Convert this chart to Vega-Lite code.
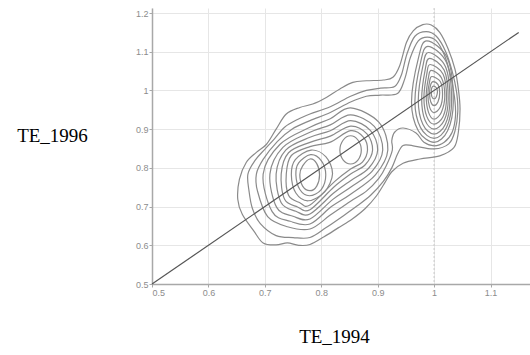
{
 "$schema": "https://vega.github.io/schema/vega-lite/v6.json",
 "width": 378, "height": 276,
 "autosize": {"type": "none"},
 "padding": {"left": 152, "top": 8, "right": 0, "bottom": 71},
 "background": "white",
 "config": {"view": {"stroke": null}},
 "datasets": {
  "contours": [
{"c":1,"i":0,"x":0.652,"y":0.719},{"c":1,"i":1,"x":0.655,"y":0.771},{"c":1,"i":2,"x":0.667,"y":0.814},{"c":1,"i":3,"x":0.685,"y":0.840},{"c":1,"i":4,"x":0.703,"y":0.861},{"c":1,"i":5,"x":0.720,"y":0.900},{"c":1,"i":6,"x":0.738,"y":0.939},{"c":1,"i":7,"x":0.762,"y":0.956},{"c":1,"i":8,"x":0.785,"y":0.965},{"c":1,"i":9,"x":0.809,"y":0.982},{"c":1,"i":10,"x":0.833,"y":1.004},{"c":1,"i":11,"x":0.856,"y":1.021},{"c":1,"i":12,"x":0.880,"y":1.025},{"c":1,"i":13,"x":0.910,"y":1.027},{"c":1,"i":14,"x":0.927,"y":1.034},{"c":1,"i":15,"x":0.939,"y":1.064},{"c":1,"i":16,"x":0.951,"y":1.124},{"c":1,"i":17,"x":0.963,"y":1.154},{"c":1,"i":18,"x":0.980,"y":1.170},{"c":1,"i":19,"x":0.995,"y":1.169},{"c":1,"i":20,"x":1.010,"y":1.150},{"c":1,"i":21,"x":1.025,"y":1.107},{"c":1,"i":22,"x":1.037,"y":1.055},{"c":1,"i":23,"x":1.043,"y":1.004},{"c":1,"i":24,"x":1.046,"y":0.952},{"c":1,"i":25,"x":1.043,"y":0.892},{"c":1,"i":26,"x":1.035,"y":0.852},{"c":1,"i":27,"x":1.010,"y":0.831},{"c":1,"i":28,"x":0.975,"y":0.823},{"c":1,"i":29,"x":0.945,"y":0.812},{"c":1,"i":30,"x":0.925,"y":0.790},{"c":1,"i":31,"x":0.912,"y":0.760},{"c":1,"i":32,"x":0.898,"y":0.728},{"c":1,"i":33,"x":0.878,"y":0.695},{"c":1,"i":34,"x":0.855,"y":0.668},{"c":1,"i":35,"x":0.830,"y":0.645},{"c":1,"i":36,"x":0.805,"y":0.622},{"c":1,"i":37,"x":0.780,"y":0.602},{"c":1,"i":38,"x":0.760,"y":0.600},{"c":1,"i":39,"x":0.740,"y":0.606},{"c":1,"i":40,"x":0.720,"y":0.601},{"c":1,"i":41,"x":0.697,"y":0.606},{"c":1,"i":42,"x":0.680,"y":0.638},{"c":1,"i":43,"x":0.660,"y":0.680},
{"c":2,"i":0,"x":0.672,"y":0.740},{"c":2,"i":1,"x":0.670,"y":0.784},{"c":2,"i":2,"x":0.683,"y":0.820},{"c":2,"i":3,"x":0.700,"y":0.848},{"c":2,"i":4,"x":0.717,"y":0.875},{"c":2,"i":5,"x":0.735,"y":0.905},{"c":2,"i":6,"x":0.758,"y":0.925},{"c":2,"i":7,"x":0.780,"y":0.939},{"c":2,"i":8,"x":0.816,"y":0.958},{"c":2,"i":9,"x":0.852,"y":0.985},{"c":2,"i":10,"x":0.880,"y":1.000},{"c":2,"i":11,"x":0.905,"y":1.006},{"c":2,"i":12,"x":0.930,"y":1.010},{"c":2,"i":13,"x":0.942,"y":1.040},{"c":2,"i":14,"x":0.952,"y":1.095},{"c":2,"i":15,"x":0.966,"y":1.140},{"c":2,"i":16,"x":0.986,"y":1.152},{"c":2,"i":17,"x":1.004,"y":1.140},{"c":2,"i":18,"x":1.020,"y":1.102},{"c":2,"i":19,"x":1.032,"y":1.050},{"c":2,"i":20,"x":1.040,"y":0.995},{"c":2,"i":21,"x":1.042,"y":0.945},{"c":2,"i":22,"x":1.037,"y":0.895},{"c":2,"i":23,"x":1.026,"y":0.862},{"c":2,"i":24,"x":1.000,"y":0.849},{"c":2,"i":25,"x":0.963,"y":0.857},{"c":2,"i":26,"x":0.945,"y":0.858},{"c":2,"i":27,"x":0.935,"y":0.835},{"c":2,"i":28,"x":0.925,"y":0.800},{"c":2,"i":29,"x":0.910,"y":0.765},{"c":2,"i":30,"x":0.888,"y":0.730},{"c":2,"i":31,"x":0.862,"y":0.700},{"c":2,"i":32,"x":0.835,"y":0.672},{"c":2,"i":33,"x":0.808,"y":0.645},{"c":2,"i":34,"x":0.780,"y":0.620},{"c":2,"i":35,"x":0.750,"y":0.620},{"c":2,"i":36,"x":0.720,"y":0.625},{"c":2,"i":37,"x":0.692,"y":0.656},{"c":2,"i":38,"x":0.678,"y":0.695},
{"c":3,"i":0,"x":0.687,"y":0.740},{"c":3,"i":1,"x":0.685,"y":0.784},{"c":3,"i":2,"x":0.697,"y":0.822},{"c":3,"i":3,"x":0.722,"y":0.868},{"c":3,"i":4,"x":0.748,"y":0.900},{"c":3,"i":5,"x":0.780,"y":0.922},{"c":3,"i":6,"x":0.816,"y":0.943},{"c":3,"i":7,"x":0.852,"y":0.970},{"c":3,"i":8,"x":0.880,"y":0.985},{"c":3,"i":9,"x":0.905,"y":0.988},{"c":3,"i":10,"x":0.935,"y":0.992},{"c":3,"i":11,"x":0.948,"y":1.030},{"c":3,"i":12,"x":0.958,"y":1.085},{"c":3,"i":13,"x":0.972,"y":1.128},{"c":3,"i":14,"x":0.988,"y":1.138},{"c":3,"i":15,"x":1.004,"y":1.128},{"c":3,"i":16,"x":1.018,"y":1.092},{"c":3,"i":17,"x":1.029,"y":1.040},{"c":3,"i":18,"x":1.036,"y":0.985},{"c":3,"i":19,"x":1.038,"y":0.935},{"c":3,"i":20,"x":1.032,"y":0.892},{"c":3,"i":21,"x":1.018,"y":0.866},{"c":3,"i":22,"x":1.000,"y":0.857},{"c":3,"i":23,"x":0.982,"y":0.866},{"c":3,"i":24,"x":0.968,"y":0.890},{"c":3,"i":25,"x":0.945,"y":0.903},{"c":3,"i":26,"x":0.930,"y":0.892},{"c":3,"i":27,"x":0.925,"y":0.870},{"c":3,"i":28,"x":0.926,"y":0.846},{"c":3,"i":29,"x":0.915,"y":0.805},{"c":3,"i":30,"x":0.902,"y":0.773},{"c":3,"i":31,"x":0.880,"y":0.740},{"c":3,"i":32,"x":0.852,"y":0.714},{"c":3,"i":33,"x":0.816,"y":0.678},{"c":3,"i":34,"x":0.780,"y":0.642},{"c":3,"i":35,"x":0.740,"y":0.648},{"c":3,"i":36,"x":0.705,"y":0.674},
{"c":4,"i":0,"x":0.697,"y":0.784},{"c":4,"i":1,"x":0.713,"y":0.687},{"c":4,"i":2,"x":0.745,"y":0.662},{"c":4,"i":3,"x":0.780,"y":0.655},{"c":4,"i":4,"x":0.818,"y":0.700},{"c":4,"i":5,"x":0.852,"y":0.732},{"c":4,"i":6,"x":0.896,"y":0.782},{"c":4,"i":7,"x":0.918,"y":0.846},{"c":4,"i":8,"x":0.902,"y":0.918},{"c":4,"i":9,"x":0.852,"y":0.955},{"c":4,"i":10,"x":0.816,"y":0.927},{"c":4,"i":11,"x":0.780,"y":0.905},{"c":4,"i":12,"x":0.727,"y":0.861},
{"c":5,"i":0,"x":0.709,"y":0.784},{"c":5,"i":1,"x":0.721,"y":0.698},{"c":5,"i":2,"x":0.750,"y":0.675},{"c":5,"i":3,"x":0.780,"y":0.668},{"c":5,"i":4,"x":0.820,"y":0.718},{"c":5,"i":5,"x":0.852,"y":0.750},{"c":5,"i":6,"x":0.890,"y":0.791},{"c":5,"i":7,"x":0.909,"y":0.846},{"c":5,"i":8,"x":0.894,"y":0.907},{"c":5,"i":9,"x":0.852,"y":0.937},{"c":5,"i":10,"x":0.816,"y":0.911},{"c":5,"i":11,"x":0.780,"y":0.892},{"c":5,"i":12,"x":0.732,"y":0.853},
{"c":6,"i":0,"x":0.720,"y":0.784},{"c":6,"i":1,"x":0.729,"y":0.710},{"c":6,"i":2,"x":0.755,"y":0.688},{"c":6,"i":3,"x":0.780,"y":0.681},{"c":6,"i":4,"x":0.822,"y":0.735},{"c":6,"i":5,"x":0.852,"y":0.767},{"c":6,"i":6,"x":0.884,"y":0.799},{"c":6,"i":7,"x":0.900,"y":0.846},{"c":6,"i":8,"x":0.887,"y":0.897},{"c":6,"i":9,"x":0.852,"y":0.922},{"c":6,"i":10,"x":0.816,"y":0.896},{"c":6,"i":11,"x":0.780,"y":0.879},{"c":6,"i":12,"x":0.737,"y":0.846},
{"c":7,"i":0,"x":0.729,"y":0.784},{"c":7,"i":1,"x":0.735,"y":0.719},{"c":7,"i":2,"x":0.758,"y":0.699},{"c":7,"i":3,"x":0.780,"y":0.692},{"c":7,"i":4,"x":0.822,"y":0.750},{"c":7,"i":5,"x":0.852,"y":0.784},{"c":7,"i":6,"x":0.878,"y":0.808},{"c":7,"i":7,"x":0.891,"y":0.846},{"c":7,"i":8,"x":0.881,"y":0.888},{"c":7,"i":9,"x":0.852,"y":0.908},{"c":7,"i":10,"x":0.816,"y":0.882},{"c":7,"i":11,"x":0.780,"y":0.866},{"c":7,"i":12,"x":0.742,"y":0.839},
{"c":8,"i":0,"x":0.738,"y":0.784},{"c":8,"i":1,"x":0.742,"y":0.729},{"c":8,"i":2,"x":0.762,"y":0.710},{"c":8,"i":3,"x":0.780,"y":0.704},{"c":8,"i":4,"x":0.824,"y":0.765},{"c":8,"i":5,"x":0.852,"y":0.797},{"c":8,"i":6,"x":0.873,"y":0.815},{"c":8,"i":7,"x":0.882,"y":0.846},{"c":8,"i":8,"x":0.875,"y":0.879},{"c":8,"i":9,"x":0.852,"y":0.896},{"c":8,"i":10,"x":0.815,"y":0.866},{"c":8,"i":11,"x":0.780,"y":0.855},{"c":8,"i":12,"x":0.747,"y":0.832},
{"c":9,"i":0,"x":0.820,"y":0.785},{"c":9,"i":1,"x":0.808,"y":0.829},{"c":9,"i":2,"x":0.782,"y":0.846},{"c":9,"i":3,"x":0.754,"y":0.821},{"c":9,"i":4,"x":0.747,"y":0.782},{"c":9,"i":5,"x":0.755,"y":0.735},{"c":9,"i":6,"x":0.777,"y":0.715},{"c":9,"i":7,"x":0.806,"y":0.738},
{"c":10,"i":0,"x":0.808,"y":0.782},{"c":10,"i":1,"x":0.800,"y":0.819},{"c":10,"i":2,"x":0.781,"y":0.834},{"c":10,"i":3,"x":0.760,"y":0.813},{"c":10,"i":4,"x":0.755,"y":0.782},{"c":10,"i":5,"x":0.762,"y":0.744},{"c":10,"i":6,"x":0.779,"y":0.728},{"c":10,"i":7,"x":0.800,"y":0.744},
{"c":11,"i":0,"x":0.797,"y":0.782},{"c":11,"i":1,"x":0.792,"y":0.811},{"c":11,"i":2,"x":0.780,"y":0.823},{"c":11,"i":3,"x":0.767,"y":0.805},{"c":11,"i":4,"x":0.762,"y":0.782},{"c":11,"i":5,"x":0.767,"y":0.753},{"c":11,"i":6,"x":0.780,"y":0.741},{"c":11,"i":7,"x":0.792,"y":0.753},
{"c":12,"i":0,"x":0.871,"y":0.846},{"c":12,"i":1,"x":0.865,"y":0.872},{"c":12,"i":2,"x":0.852,"y":0.883},{"c":12,"i":3,"x":0.839,"y":0.872},{"c":12,"i":4,"x":0.833,"y":0.846},{"c":12,"i":5,"x":0.839,"y":0.820},{"c":12,"i":6,"x":0.852,"y":0.810},{"c":12,"i":7,"x":0.865,"y":0.820},
{"c":20,"i":0,"x":1.034,"y":0.970},{"c":20,"i":1,"x":1.024,"y":1.082},{"c":20,"i":2,"x":0.987,"y":1.128},{"c":20,"i":3,"x":0.972,"y":1.082},{"c":20,"i":4,"x":0.960,"y":0.970},{"c":20,"i":5,"x":0.972,"y":0.896},{"c":20,"i":6,"x":1.000,"y":0.866},{"c":20,"i":7,"x":1.024,"y":0.896},
{"c":21,"i":0,"x":1.031,"y":0.972},{"c":21,"i":1,"x":1.022,"y":1.072},{"c":21,"i":2,"x":0.989,"y":1.114},{"c":21,"i":3,"x":0.976,"y":1.072},{"c":21,"i":4,"x":0.966,"y":0.972},{"c":21,"i":5,"x":0.976,"y":0.904},{"c":21,"i":6,"x":1.000,"y":0.876},{"c":21,"i":7,"x":1.022,"y":0.904},
{"c":22,"i":0,"x":1.028,"y":0.975},{"c":22,"i":1,"x":1.020,"y":1.062},{"c":22,"i":2,"x":0.990,"y":1.098},{"c":22,"i":3,"x":0.980,"y":1.062},{"c":22,"i":4,"x":0.972,"y":0.975},{"c":22,"i":5,"x":0.980,"y":0.913},{"c":22,"i":6,"x":1.000,"y":0.887},{"c":22,"i":7,"x":1.020,"y":0.913},
{"c":23,"i":0,"x":1.025,"y":0.978},{"c":23,"i":1,"x":1.018,"y":1.052},{"c":23,"i":2,"x":0.992,"y":1.083},{"c":23,"i":3,"x":0.984,"y":1.052},{"c":23,"i":4,"x":0.978,"y":0.978},{"c":23,"i":5,"x":0.984,"y":0.923},{"c":23,"i":6,"x":1.000,"y":0.900},{"c":23,"i":7,"x":1.018,"y":0.923},
{"c":24,"i":0,"x":1.022,"y":0.982},{"c":24,"i":1,"x":1.016,"y":1.042},{"c":24,"i":2,"x":0.993,"y":1.067},{"c":24,"i":3,"x":0.987,"y":1.042},{"c":24,"i":4,"x":0.982,"y":0.982},{"c":24,"i":5,"x":0.987,"y":0.933},{"c":24,"i":6,"x":1.000,"y":0.913},{"c":24,"i":7,"x":1.016,"y":0.933},
{"c":25,"i":0,"x":1.019,"y":0.986},{"c":25,"i":1,"x":1.013,"y":1.033},{"c":25,"i":2,"x":0.995,"y":1.052},{"c":25,"i":3,"x":0.990,"y":1.033},{"c":25,"i":4,"x":0.986,"y":0.986},{"c":25,"i":5,"x":0.990,"y":0.944},{"c":25,"i":6,"x":1.000,"y":0.926},{"c":25,"i":7,"x":1.013,"y":0.944},
{"c":26,"i":0,"x":1.015,"y":0.990},{"c":26,"i":1,"x":1.011,"y":1.023},{"c":26,"i":2,"x":0.996,"y":1.036},{"c":26,"i":3,"x":0.992,"y":1.023},{"c":26,"i":4,"x":0.989,"y":0.990},{"c":26,"i":5,"x":0.992,"y":0.957},{"c":26,"i":6,"x":1.000,"y":0.943},{"c":26,"i":7,"x":1.011,"y":0.957},
{"c":27,"i":0,"x":1.010,"y":0.994},{"c":27,"i":1,"x":1.007,"y":1.015},{"c":27,"i":2,"x":0.998,"y":1.023},{"c":27,"i":3,"x":0.994,"y":1.015},{"c":27,"i":4,"x":0.992,"y":0.994},{"c":27,"i":5,"x":0.994,"y":0.971},{"c":27,"i":6,"x":1.000,"y":0.961},{"c":27,"i":7,"x":1.007,"y":0.971},
{"c":28,"i":0,"x":1.006,"y":0.997},{"c":28,"i":1,"x":1.004,"y":1.007},{"c":28,"i":2,"x":0.999,"y":1.011},{"c":28,"i":3,"x":0.996,"y":1.007},{"c":28,"i":4,"x":0.995,"y":0.997},{"c":28,"i":5,"x":0.996,"y":0.984},{"c":28,"i":6,"x":1.000,"y":0.978},{"c":28,"i":7,"x":1.004,"y":0.984}
  ],
  "diag": [{"x": 0.5, "y": 0.5}, {"x": 1.15, "y": 1.15}],
  "marker": [{"x": 1}]
 },
 "encoding": {
  "x": {"field": "x", "type": "quantitative",
   "scale": {"domain": [0.5, 1.17], "nice": false, "zero": false},
   "axis": {"values": [0.5, 0.6, 0.7, 0.8, 0.9, 1, 1.1], "format": "~g", "grid": true, "gridColor": "#e6e6e6", "labelOverlap": false,
    "domainColor": "#a8a8a8", "domainWidth": 1.5, "tickColor": "#a8a8a8", "tickSize": 3,
    "labelFont": "Liberation Sans", "labelFontSize": 9, "labelColor": "#8c8c8c", "labelPadding": 1,
    "title": "TE_1994", "titleFont": "Liberation Serif", "titleFontSize": 19, "titleFontWeight": "normal", "titleColor": "#000000",
    "titleAngle": 0, "titleAlign": "center", "titleBaseline": "middle", "titleX": 182, "titleY": 52}},
  "y": {"field": "y", "type": "quantitative",
   "scale": {"domain": [0.5, 1.213], "nice": false, "zero": false},
   "axis": {"values": [0.5, 0.6, 0.7, 0.8, 0.9, 1, 1.1, 1.2], "format": "~g", "grid": true, "gridColor": "#e6e6e6", "labelOverlap": false, "labelFlush": false,
    "domainColor": "#a8a8a8", "domainWidth": 1.5, "tickColor": "#a8a8a8", "tickSize": 3,
    "labelFont": "Liberation Sans", "labelFontSize": 9, "labelColor": "#8c8c8c", "labelPadding": 1,
    "title": "TE_1996", "titleFont": "Liberation Serif", "titleFontSize": 19, "titleFontWeight": "normal", "titleColor": "#000000",
    "titleAngle": 0, "titleAlign": "center", "titleBaseline": "middle", "titleX": -100, "titleY": 127}}
 },
 "layer": [
  {
   "data": {"name": "marker"},
   "mark": {"type": "rule", "stroke": "#c8c8c8", "strokeWidth": 1, "strokeDash": [2, 2]},
   "encoding": {"y": null}
  },
  {
   "data": {"name": "contours"},
   "mark": {"type": "line", "interpolate": "cardinal-closed", "stroke": "#8a8a8a", "strokeWidth": 1.2},
   "encoding": {
    "detail": {"field": "c", "type": "nominal"},
    "order": {"field": "i", "type": "quantitative"}
   }
  },
  {
   "data": {"name": "diag"},
   "mark": {"type": "line", "stroke": "#555555", "strokeWidth": 1.2},
   "encoding": {}
  }
 ]
}
